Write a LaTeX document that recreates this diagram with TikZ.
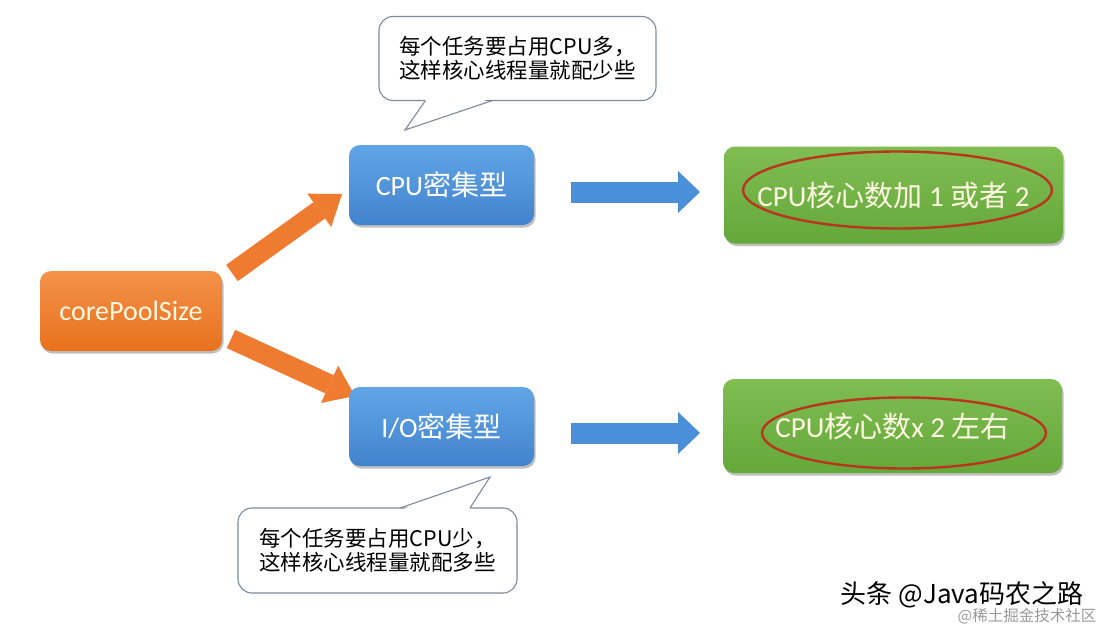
\documentclass[tikz,border=0pt]{standalone}
\usepackage{fontspec}
\setmainfont{Carlito}
\newfontfamily\cjk{Noto Sans CJK SC}
\usetikzlibrary{arrows.meta,shadows}
\definecolor{orangeT}{HTML}{F3924A}
\definecolor{orangeB}{HTML}{E8711D}
\definecolor{orangeArrow}{HTML}{EE7B2F}
\definecolor{blueT}{HTML}{62A5E6}
\definecolor{blueB}{HTML}{4283CD}
\definecolor{blueArrow}{HTML}{4C8FD9}
\definecolor{greenT}{HTML}{80BD52}
\definecolor{greenB}{HTML}{64A83A}
\definecolor{ringRed}{HTML}{B8351F}
\definecolor{textCream}{HTML}{FFF9E3}
\definecolor{calloutGray}{HTML}{7E8A9A}
\definecolor{markGray}{HTML}{9A9A9A}
\begin{document}
\begin{tikzpicture}[x=1pt,y=-1pt,
  box/.style={rounded corners=11pt, align=center, inner sep=0pt,
    drop shadow={shadow xshift=1.5pt, shadow yshift=-2.5pt, opacity=0.25, fill=black}},
  corebox/.style={box, top color=orangeT, bottom color=orangeB, text=textCream,
    font=\fontsize{28}{32}\selectfont, minimum width=182pt, minimum height=80pt},
  typebox/.style={box, top color=blueT, bottom color=blueB, text=white,
    font=\fontsize{28}{32}\selectfont, minimum width=185pt, minimum height=80pt},
  resultbox/.style={box, top color=greenT, bottom color=greenB, text=textCream,
    font=\fontsize{29}{33}\selectfont, minimum width=339pt},
  orangearrow/.style={orangeArrow, line width=20pt,
    -{Triangle[width=41pt,length=28pt,line width=0pt]}},
  bluearrow/.style={blueArrow, line width=21pt,
    -{Triangle[width=42pt,length=22pt,line width=0pt]}},
  callout/.style={draw=calloutGray, line width=1.1pt, fill=white, rounded corners=14pt,
    align=center, inner sep=0pt, font=\cjk\fontsize{21.5}{24.5}\selectfont},
  calloutline/.style={draw=calloutGray, line width=1.1pt, line join=miter},
  ring/.style={draw=ringRed, line width=2.4pt}
]
\useasboundingbox (0,0) rectangle (1113,629);
\fill[white] (0,0) rectangle (1113,629);

% arrow end points
\coordinate (ou1) at (232,273); \coordinate (ou2) at (342,194);
\coordinate (od1) at (231,339); \coordinate (od2) at (355,396);
\coordinate (bu1) at (571,192); \coordinate (bu2) at (700,192);
\coordinate (bd1) at (571,433); \coordinate (bd2) at (700,433);

\draw[orangearrow] (ou1) -- (ou2);
\draw[orangearrow] (od1) -- (od2);
\draw[bluearrow] (bu1) -- (bu2);
\draw[bluearrow] (bd1) -- (bd2);

% boxes
\node[corebox] (core) at (131,311) {corePoolSize};
\node[typebox] (cpu) at (441.5,185) {CPU{\cjk 密集型}};
\node[typebox, minimum height=79pt] (io) at (441.5,426.5) {I/O{\cjk 密集型}};
\node[resultbox, minimum height=97pt] (r1) at (893.5,195) {CPU{\cjk 核心数加} 1 {\cjk 或者} 2};
\node[resultbox, minimum height=94pt] (r2) at (892.5,426) {CPU{\cjk 核心数}x 2 {\cjk 左右}};

% red rings
\draw[ring] (897.5,190) ellipse [x radius=154.5, y radius=38.5];
\draw[ring] (904,433) ellipse [x radius=142, y radius=35.5];

% callouts
\node[callout, minimum width=277pt, minimum height=84pt] (c1) at (517.5,58.5)
  {每个任务要占用CPU多，\\这样核心线程量就配少些};
\coordinate (t1) at (405,130);
\fill[white] (426.5,98) -- (t1) -- (491.5,98) -- cycle;
\draw[calloutline] (425.5,100.5) -- (t1) -- (492.5,100.5);

\node[callout, minimum width=279pt, minimum height=85pt] (c2) at (377.5,550.5)
  {每个任务要占用CPU少，\\这样核心线程量就配多些};
\coordinate (t2) at (490,477);
\fill[white] (401,510) -- (t2) -- (469,510) -- cycle;
\draw[calloutline] (400,508) -- (t2) -- (470,508);

% watermark
\node[font=\cjk\fontsize{26}{28}\selectfont, text=black, inner sep=0pt] (wm) at (962,595) {头条 @Java码农之路};
\node[font=\cjk\fontsize{15.5}{17}\selectfont, text=markGray, inner sep=0pt] (wm2) at (1027,616) {@稀土掘金技术社区};
\end{tikzpicture}
\end{document}
